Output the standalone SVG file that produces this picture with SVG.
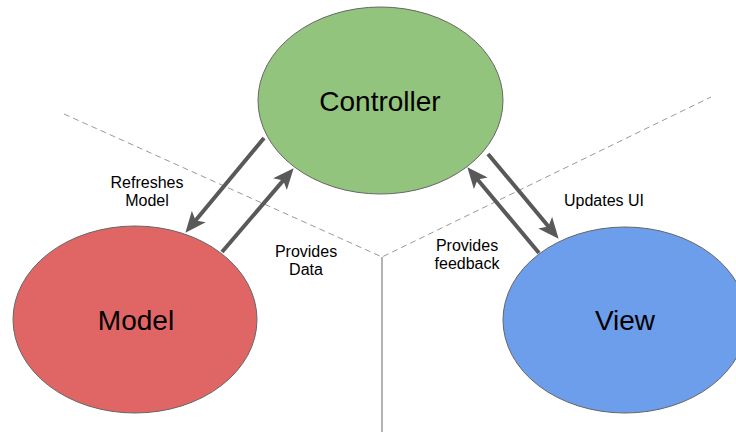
<svg xmlns="http://www.w3.org/2000/svg" width="736" height="432" viewBox="0 0 736 432">
<style>
.node{stroke:#666666;stroke-width:1}
.big{font-family:"Liberation Sans",Arial,sans-serif;font-size:28px;fill:#000;text-anchor:middle}
.lbl{font-family:"Liberation Sans",Arial,sans-serif;font-size:16px;fill:#000;text-anchor:middle}
.arrow{stroke:#595959;stroke-width:4;fill:none;marker-end:url(#head)}
.dash{stroke:#999999;stroke-width:1;stroke-dasharray:6,4;fill:none}
.solid{stroke:#999999;stroke-width:1.5;fill:none}
</style>
<defs>
<marker id="head" markerUnits="userSpaceOnUse" markerWidth="22" markerHeight="20" refX="10" refY="9" orient="auto" viewBox="0 0 22 18">
<path d="M0,0 L21,9 L0,18 L5,9 z" fill="#595959"/>
</marker>
</defs>
<rect width="736" height="432" fill="#ffffff"/>
<g id="dividers">
<path class="dash" d="M64,114 L382,257 L711,97"/>
<path class="solid" d="M382,257 L382,432"/>
</g>
<g id="controller">
<ellipse class="node" cx="380.5" cy="100.5" rx="122.5" ry="93.5" fill="#93c47d"/>
<text class="big" x="380" y="111">Controller</text>
</g>
<g id="model">
<ellipse class="node" cx="135" cy="319.5" rx="122" ry="93.5" fill="#e06666"/>
<text class="big" x="136" y="330">Model</text>
</g>
<g id="view">
<ellipse class="node" cx="625" cy="320" rx="122" ry="93" fill="#6d9eeb"/>
<text class="big" x="625" y="330">View</text>
</g>
<g id="connectors">
<line class="arrow" x1="264" y1="138" x2="192.4" y2="224.3"/>
<line class="arrow" x1="222" y1="252" x2="286.5" y2="176.6"/>
<line class="arrow" x1="488" y1="154" x2="551.6" y2="230.3"/>
<line class="arrow" x1="539" y1="253" x2="474.4" y2="175.7"/>
</g>
<g id="labels">
<text class="lbl" x="147" y="188">Refreshes</text>
<text class="lbl" x="147" y="206">Model</text>
<text class="lbl" x="306" y="257">Provides</text>
<text class="lbl" x="306" y="275">Data</text>
<text class="lbl" x="604" y="206">Updates UI</text>
<text class="lbl" x="467" y="251">Provides</text>
<text class="lbl" x="467" y="269">feedback</text>
</g>
</svg>
